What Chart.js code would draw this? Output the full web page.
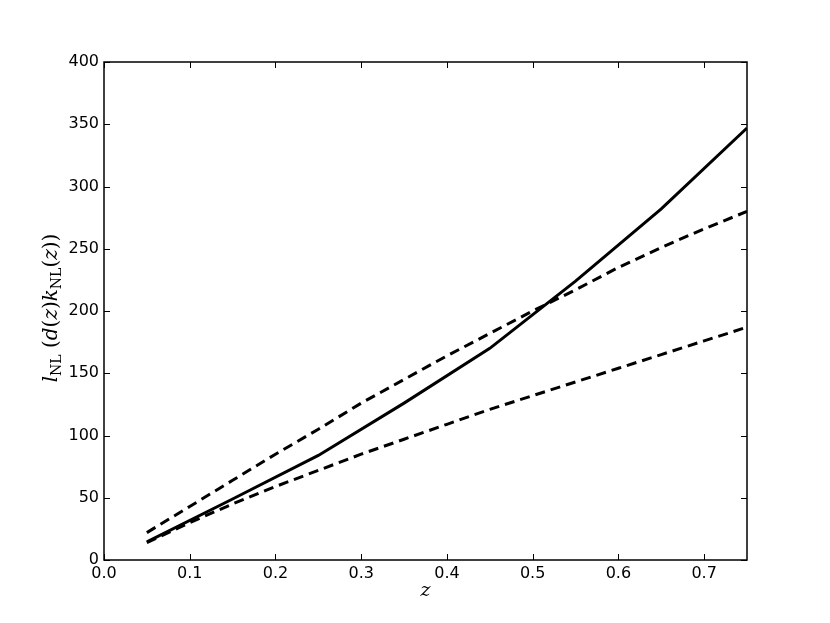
<!DOCTYPE html>
<html>
<head>
<meta charset="utf-8">
<script src="https://cdn.jsdelivr.net/npm/chart.js@4/dist/chart.umd.min.js"></script>
<style>
  html, body { margin: 0; padding: 0; background: #fff; }
  #chart { display: block; }
</style>
</head>
<body>
<canvas id="chart" width="830" height="623"></canvas>
<script>
// 데이터: z 값과 각 곡선
const zSolid = [0.05, 0.15, 0.25, 0.35, 0.45, 0.55, 0.65, 0.75];
const lSolid = [14.5, 49, 84, 126, 170, 224, 282, 347];

const zDashed = [0.05, 0.10, 0.15, 0.20, 0.25, 0.30, 0.35, 0.40, 0.45, 0.50, 0.55, 0.60, 0.65, 0.70, 0.75];
const lUpper = [22, 43, 64, 85, 105, 126, 145, 164, 182, 200, 217, 235, 251, 266, 280];
const lLower = [14, 30, 45, 59, 72, 85, 97, 109, 121, 132, 143, 154, 165, 176, 187];

const xTicks = [0.0, 0.1, 0.2, 0.3, 0.4, 0.5, 0.6, 0.7];
const yTicks = [0, 50, 100, 150, 200, 250, 300, 350, 400];

const toPoints = (xs, ys) => xs.map((x, i) => ({ x, y: ys[i] }));

// 축 테두리 + 안쪽 눈금 (matplotlib 스타일)
const frameTicks = {
  id: 'frameTicks',
  afterDraw(chart) {
    const { ctx, chartArea: a, scales: { x, y } } = chart;
    const len = 6;
    ctx.save();
    ctx.strokeStyle = '#000';
    ctx.lineWidth = 1;
    ctx.beginPath();
    xTicks.forEach(v => {
      const px = Math.round(x.getPixelForValue(v)) + 0.5;
      ctx.moveTo(px, a.bottom); ctx.lineTo(px, a.bottom - len);
      ctx.moveTo(px, a.top); ctx.lineTo(px, a.top + len);
    });
    yTicks.forEach(v => {
      const py = Math.round(y.getPixelForValue(v)) + 0.5;
      ctx.moveTo(a.left, py); ctx.lineTo(a.left + len, py);
      ctx.moveTo(a.right, py); ctx.lineTo(a.right - len, py);
    });
    ctx.stroke();
    ctx.lineWidth = 1.5;
    ctx.strokeRect(a.left, a.top, a.right - a.left, a.bottom - a.top);

    // x 축 제목
    ctx.fillStyle = '#000';
    ctx.font = 'italic 19px "DejaVu Serif"';
    ctx.textAlign = 'center';
    ctx.textBaseline = 'alphabetic';
    ctx.fillText('z', (a.left + a.right) / 2, 596);

    // y 축 제목 (아래첨자 포함)
    const big = 20, small = 14;
    const parts = [
      ['l', 'italic'], ['NL', 'sub'], [' (', 'roman'], ['d', 'italic'], ['(', 'roman'],
      ['z', 'italic'], [')', 'roman'], ['k', 'italic'], ['NL', 'sub'], ['(', 'roman'],
      ['z', 'italic'], ['))', 'roman']
    ];
    const fontOf = s => s === 'italic' ? `italic ${big}px "DejaVu Serif"`
      : s === 'sub' ? `${small}px "DejaVu Serif"` : `${big}px "DejaVu Serif"`;
    let total = 0;
    parts.forEach(([t, s]) => { ctx.font = fontOf(s); total += ctx.measureText(t).width; });
    ctx.translate(57, (a.top + a.bottom) / 2 - 3);
    ctx.rotate(-Math.PI / 2);
    ctx.textAlign = 'left';
    let cx = -total / 2;
    parts.forEach(([t, s]) => {
      ctx.font = fontOf(s);
      ctx.fillText(t, cx, s === 'sub' ? 4 : 0);
      cx += ctx.measureText(t).width;
    });
    ctx.restore();
  }
};

const lineStyle = {
  borderColor: '#000',
  borderWidth: 3,
  pointRadius: 0,
  tension: 0,
  fill: false
};

new Chart(document.getElementById('chart').getContext('2d'), {
  type: 'line',
  data: {
    datasets: [
      { ...lineStyle, label: 'solid', data: toPoints(zSolid, lSolid) },
      { ...lineStyle, label: 'upper', data: toPoints(zDashed, lUpper), borderDash: [10, 6] },
      { ...lineStyle, label: 'lower', data: toPoints(zDashed, lLower), borderDash: [10, 6] }
    ]
  },
  options: {
    responsive: false,
    animation: false,
    devicePixelRatio: 1,
    layout: { padding: { left: 0, right: 83, top: 62, bottom: 0 } },
    plugins: { legend: { display: false }, tooltip: { enabled: false } },
    scales: {
      x: {
        type: 'linear',
        min: 0,
        max: 0.75,
        afterFit: s => { s.height = 63; },
        afterBuildTicks: s => { s.ticks = xTicks.map(value => ({ value })); },
        grid: { display: false, drawTicks: false },
        border: { display: false },
        ticks: {
          color: '#000',
          padding: 4,
          font: { family: '"DejaVu Sans"', size: 16 },
          callback: v => Number(v).toFixed(1)
        }
      },
      y: {
        min: 0,
        max: 400,
        afterFit: s => { s.width = 104; },
        afterBuildTicks: s => { s.ticks = yTicks.map(value => ({ value })); },
        grid: { display: false, drawTicks: false },
        border: { display: false },
        ticks: {
          color: '#000',
          padding: 5,
          font: { family: '"DejaVu Sans"', size: 16 }
        }
      }
    }
  },
  plugins: [frameTicks]
});
</script>
</body>
</html>
